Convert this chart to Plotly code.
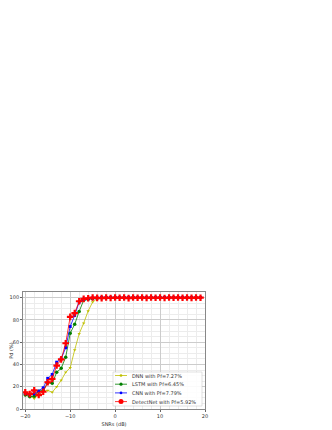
import plotly.graph_objects as go

snr = list(range(-20, 20))

dnn = [12.5, 11.6, 9.5, 12.5, 16, 16.7, 15, 20, 25.7, 33, 37, 53, 67.5, 77, 88, 96, 99, 99.7] + [100] * 22
lstm = [12.5, 11, 11.5, 16, 16.5, 23.6, 23, 33, 36.5, 46.5, 68, 76, 87.5, 97.6, 98.5, 99, 99.5, 99.8] + [100] * 22
cnn = [14, 13, 13.7, 16, 19, 27.5, 31, 42, 45, 55, 74, 84, 96, 98.5, 99, 99.7, 99.8, 100] + [100] * 22
detect = [15, 13.4, 16.7, 12.5, 15.5, 24, 27, 39, 44.5, 59, 82.7, 86, 96.7, 98.8, 99.4, 100, 99.7, 99.5,
          100, 99.6, 100, 99.8, 100, 99.5, 100, 99.8, 100, 99.7, 100, 99.8, 100, 99.6, 100, 99.9, 100, 99.8,
          100, 99.7, 100, 99.9]

names = ["DNN with Pf=7.27%", "LSTM with Pf=6.45%", "CNN with Pf=7.79%", "DetectNet with Pf=5.92%"]
series = [dnn, lstm, cnn, detect]
colors = ["#bfbf00", "#008000", "#0000ff", "#ff0000"]
symbols = ["triangle-down", "circle", "square", "cross"]
sizes = [3, 3.5, 3, 5.5]

# page body has an 8px margin; target plot area in page pixels: x 23..205, y 292..409
OFF = 8
W, H = 324, 422
L, R, T, B = 23 - OFF, OFF + W - 205, 292 - OFF, OFF + H - 409
pw, ph = W - L - R, H - T - B

def paper_x(px):
    return (px - OFF - L) / pw

def paper_y(py):
    return (OFF + H - B - py) / ph

fig = go.Figure()
for n, y, c, s, sz in zip(names, series, colors, symbols, sizes):
    fig.add_trace(go.Scatter(x=snr, y=y, name=n, mode="lines+markers", showlegend=False,
                             line=dict(color=c, width=0.8),
                             marker=dict(color=c, symbol=s, size=sz, line=dict(width=0))))

# custom compact legend (page pixel positions)
fig.add_shape(type="rect", xref="paper", yref="paper", x0=paper_x(113), y0=paper_y(406),
              x1=paper_x(202), y1=paper_y(372),
              line=dict(color="#cccccc", width=0.6), fillcolor="rgba(255,255,255,0.9)", layer="above")
rows = [375.5, 384.2, 392.9, 401.6]
for n, c, s, sz, ry in zip(names, colors, symbols, sizes, rows):
    fig.add_shape(type="line", xref="paper", yref="paper", x0=paper_x(115), x1=paper_x(127),
                  y0=paper_y(ry), y1=paper_y(ry), line=dict(color=c, width=0.8), layer="above")
    r = sz / 2.2
    fig.add_shape(type="circle", xref="paper", yref="paper",
                  x0=paper_x(121 - r), x1=paper_x(121 + r),
                  y0=paper_y(ry + r), y1=paper_y(ry - r),
                  line=dict(width=0), fillcolor=c, layer="above")
    fig.add_annotation(x=paper_x(130), y=paper_y(ry), xref="paper", yref="paper", text=n,
                       showarrow=False, xanchor="left", yanchor="middle",
                       font=dict(size=5, family="DejaVu Sans", color="#333333"))

axis_common = dict(showline=True, linecolor="#888888", linewidth=0.8, mirror=True,
                   gridcolor="#cccccc", gridwidth=0.6, zeroline=False, automargin=False,
                   ticks="outside", ticklen=2, tickcolor="#666666",
                   tickfont=dict(size=5, family="DejaVu Sans", color="#333333"))
fig.update_xaxes(range=[-20.5, 20], dtick=10, tick0=0,
                 minor=dict(dtick=2, showgrid=True, gridcolor="#ececec", gridwidth=0.5),
                 title=dict(text="SNRs (dB)", font=dict(size=5, family="DejaVu Sans", color="#333333"), standoff=4),
                 **axis_common)
fig.update_yaxes(range=[0, 105], dtick=20, tick0=0,
                 minor=dict(dtick=5, showgrid=True, gridcolor="#ececec", gridwidth=0.5),
                 title=dict(text="Pd (%)", font=dict(size=5, family="DejaVu Sans", color="#333333"), standoff=3),
                 **axis_common)
fig.update_layout(width=W, height=H, margin=dict(l=L, r=R, t=T, b=B, autoexpand=False),
                  plot_bgcolor="white", paper_bgcolor="white", showlegend=False)
fig.write_html("out.html")
